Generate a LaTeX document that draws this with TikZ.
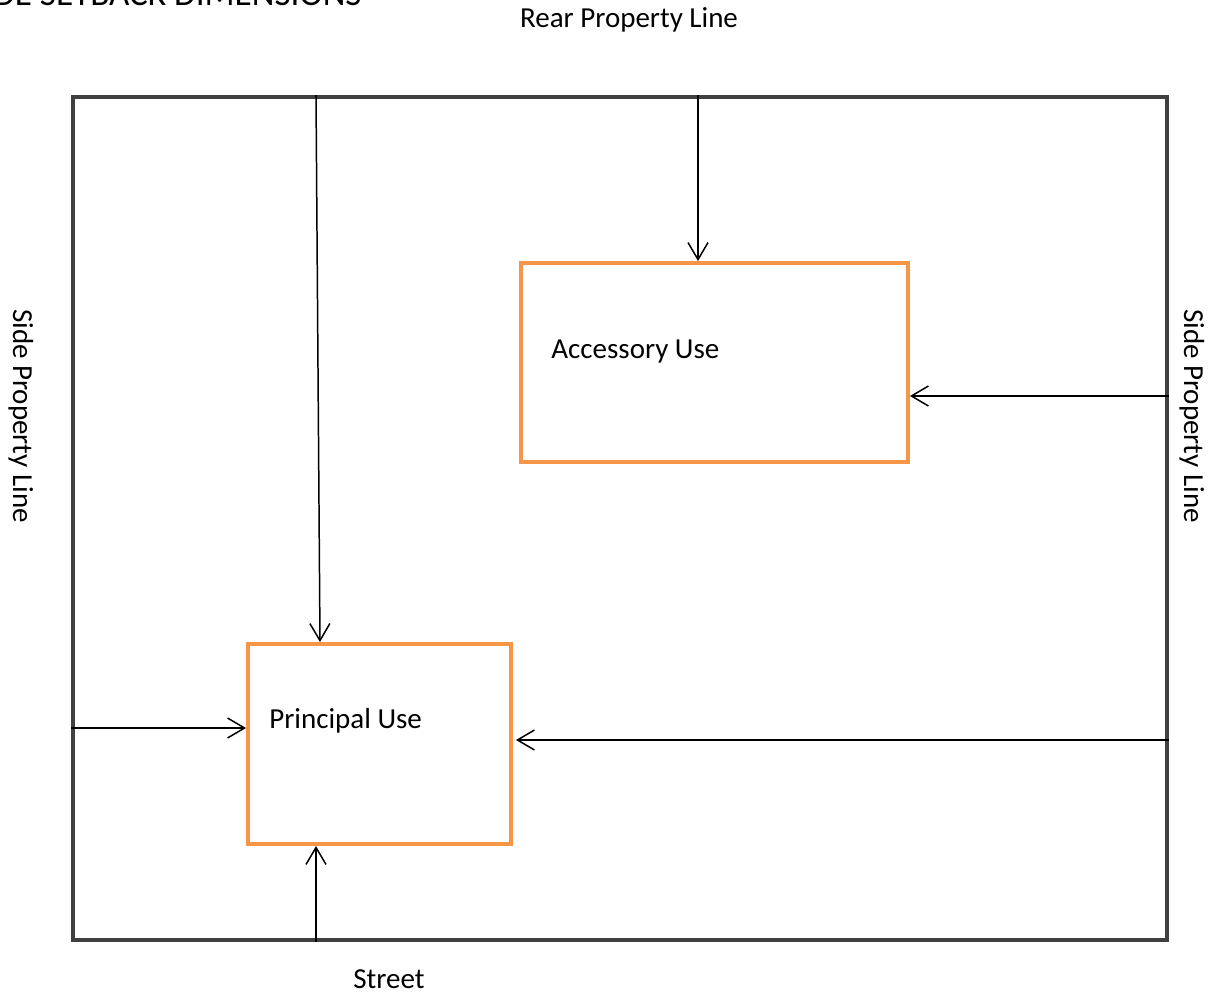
\documentclass[tikz,border=0pt]{standalone}
\usepackage{fontspec}
\setmainfont{Carlito}
\usetikzlibrary{arrows.meta}
\definecolor{lotgray}{HTML}{404040}
\definecolor{bldgorange}{HTML}{F79646}

\begin{document}
\begin{tikzpicture}[x=0.02cm,y=-0.02cm,
    every node/.style={font=\fontsize{16.5}{20}\selectfont},
    lot/.style={draw=lotgray, line width=0.08cm, inner sep=0pt,
                minimum width=21.88cm, minimum height=16.86cm},
    bldg/.style={draw=bldgorange, line width=0.08cm, inner sep=0pt},
    lbl/.style={inner sep=0pt},
    setback/.style={-{Straight Barb[length=3.4mm,width=4mm]}, line width=0.85pt}]
  \useasboundingbox (0,0) rectangle (1212,996);

  \node[lot] (lot) at (620,518.5) {};
  \node[bldg, minimum width=7.74cm, minimum height=3.98cm] (acc) at (714.5,362.5) {};
  \node[bldg, minimum width=5.26cm, minimum height=4cm] (pri) at (379.5,744) {};

  \node[lbl, anchor=base east, font=\fontsize{20}{24}\selectfont] (title) at (362,6) {DE SETBACK DIMENSIONS};
  \node[lbl, anchor=base] (rear) at (629,28) {Rear Property Line};
  \node[lbl, anchor=base west] (street) at (353,988) {Street};
  \node[lbl, anchor=base, rotate=-90] (sideL) at (13,416) {Side Property Line};
  \node[lbl, anchor=base, rotate=-90] (sideR) at (1184,416) {Side Property Line};
  \node[lbl, anchor=base west] (accname) at (551,358) {Accessory Use};
  \node[lbl, anchor=base west] (priname) at (269,728) {Principal Use};

  \path[setback]
    (lot.north -| 316,0) edge (pri.north -| 320,0)
    (lot.north -| 698,0) edge (acc.north -| 698,0)
    (lot.east |- 0,396)  edge (acc.east |- 0,396)
    (lot.east |- 0,740)  edge[shorten >=0.06cm] (pri.east |- 0,740)
    (lot.west |- 0,728)  edge (pri.west |- 0,728)
    (lot.south -| 316,0) edge (pri.south -| 316,0);
\end{tikzpicture}
\end{document}
